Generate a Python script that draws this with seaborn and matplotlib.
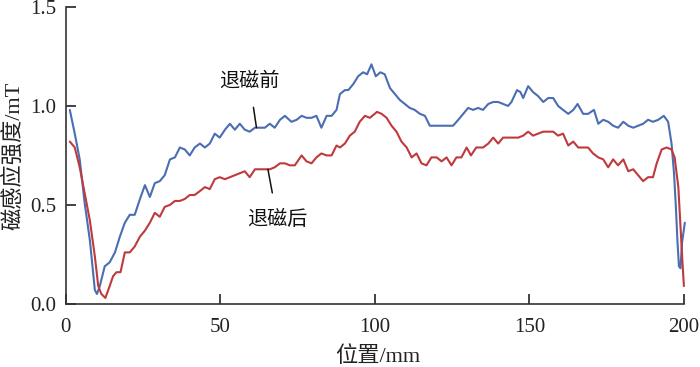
import matplotlib
matplotlib.use("Agg")
import matplotlib.pyplot as plt
import seaborn as sns
import pandas as pd

x_before = [1.3, 2.9, 4.5, 6.1, 7.8, 9.4, 10.1, 11.0, 12.6, 14.2, 15.9, 17.5, 19.1, 20.7, 22.3, 24.0, 25.6, 27.2, 28.8, 30.4, 32.0, 33.7, 35.3, 36.9, 38.5, 40.1, 41.7, 43.4, 45.0, 46.6, 48.2, 49.8, 51.5, 53.1, 54.7, 56.3, 57.9, 59.5, 61.2, 64.4, 66.0, 67.6, 69.3, 70.9, 73.0, 74.7, 76.3, 77.9, 79.5, 81.1, 82.7, 84.4, 86.0, 87.6, 88.7, 90.3, 91.4, 93.0, 94.6, 96.2, 97.5, 98.9, 100.3, 101.8, 103.2, 104.9, 106.5, 108.1, 109.7, 111.3, 112.9, 114.6, 116.2, 117.8, 119.4, 121.0, 123.2, 125.3, 127.0, 128.6, 130.2, 131.8, 133.4, 135.0, 136.7, 138.3, 139.9, 141.5, 143.1, 144.2, 146.0, 147.1, 148.0, 149.6, 151.2, 152.8, 154.5, 156.1, 157.7, 159.3, 160.9, 162.6, 164.2, 165.6, 167.4, 169.0, 170.9, 172.3, 173.9, 175.5, 177.1, 178.7, 180.4, 182.0, 183.6, 185.2, 186.8, 188.4, 190.0, 191.7, 193.5, 194.9, 196.0, 196.8, 197.4, 197.9, 198.4, 198.9, 199.4, 200.3]
y_before = [0.98, 0.86, 0.73, 0.51, 0.32, 0.07, 0.05, 0.09, 0.19, 0.21, 0.26, 0.34, 0.41, 0.45, 0.45, 0.53, 0.60, 0.54, 0.61, 0.62, 0.65, 0.73, 0.74, 0.79, 0.78, 0.75, 0.79, 0.81, 0.79, 0.81, 0.86, 0.84, 0.88, 0.91, 0.88, 0.91, 0.88, 0.87, 0.89, 0.89, 0.91, 0.89, 0.93, 0.95, 0.92, 0.93, 0.95, 0.94, 0.94, 0.95, 0.89, 0.95, 0.95, 0.98, 1.06, 1.08, 1.08, 1.11, 1.15, 1.17, 1.16, 1.21, 1.15, 1.17, 1.16, 1.09, 1.06, 1.03, 1.01, 0.99, 0.98, 0.96, 0.95, 0.90, 0.90, 0.90, 0.90, 0.90, 0.93, 0.96, 0.99, 0.98, 0.99, 0.98, 1.01, 1.02, 1.02, 1.01, 1.00, 1.02, 1.08, 1.07, 1.04, 1.10, 1.07, 1.05, 1.02, 1.04, 1.04, 1.00, 0.98, 0.96, 0.98, 1.01, 0.96, 0.96, 0.98, 0.91, 0.93, 0.92, 0.90, 0.89, 0.92, 0.90, 0.89, 0.90, 0.91, 0.93, 0.92, 0.93, 0.95, 0.92, 0.81, 0.66, 0.49, 0.32, 0.19, 0.18, 0.31, 0.41]

x_after = [1.3, 2.9, 4.5, 6.1, 7.8, 9.4, 10.5, 11.5, 12.8, 14.2, 15.3, 16.4, 17.7, 19.1, 20.7, 22.3, 24.0, 25.6, 27.2, 28.8, 30.4, 32.0, 33.7, 35.3, 36.9, 38.5, 40.1, 41.7, 43.4, 45.0, 46.6, 48.2, 49.8, 51.5, 53.1, 54.7, 56.3, 57.9, 59.5, 61.2, 62.8, 64.4, 66.0, 67.6, 69.3, 70.9, 72.5, 74.1, 76.3, 77.9, 79.5, 81.1, 82.7, 84.4, 86.0, 87.6, 88.7, 90.3, 91.9, 93.5, 95.1, 96.8, 98.4, 100.7, 102.2, 103.8, 105.4, 107.0, 108.6, 110.3, 111.9, 113.5, 115.1, 116.7, 118.3, 120.0, 121.6, 123.2, 124.8, 126.4, 128.0, 129.7, 131.1, 132.8, 135.0, 136.7, 138.3, 139.9, 141.5, 143.7, 146.4, 148.0, 149.6, 151.2, 152.8, 154.5, 157.7, 159.3, 160.9, 162.6, 164.2, 165.8, 167.4, 169.0, 170.6, 172.3, 173.9, 175.5, 177.1, 178.7, 180.4, 182.0, 183.6, 185.2, 186.8, 188.4, 190.0, 191.2, 192.8, 194.4, 196.0, 197.0, 198.2, 198.9, 199.5, 200.0]
y_after = [0.82, 0.79, 0.69, 0.56, 0.42, 0.24, 0.09, 0.05, 0.03, 0.09, 0.14, 0.16, 0.16, 0.26, 0.26, 0.29, 0.34, 0.37, 0.41, 0.46, 0.44, 0.49, 0.50, 0.52, 0.52, 0.53, 0.55, 0.55, 0.57, 0.59, 0.58, 0.63, 0.64, 0.63, 0.64, 0.65, 0.66, 0.67, 0.64, 0.68, 0.68, 0.68, 0.68, 0.69, 0.71, 0.71, 0.70, 0.70, 0.75, 0.72, 0.71, 0.74, 0.76, 0.75, 0.75, 0.80, 0.79, 0.81, 0.85, 0.87, 0.92, 0.95, 0.94, 0.97, 0.96, 0.94, 0.90, 0.87, 0.82, 0.79, 0.74, 0.76, 0.71, 0.70, 0.74, 0.74, 0.72, 0.74, 0.70, 0.74, 0.74, 0.79, 0.75, 0.79, 0.79, 0.81, 0.84, 0.81, 0.84, 0.84, 0.84, 0.85, 0.87, 0.85, 0.86, 0.87, 0.87, 0.85, 0.86, 0.80, 0.82, 0.79, 0.79, 0.79, 0.76, 0.74, 0.73, 0.69, 0.73, 0.70, 0.73, 0.67, 0.68, 0.65, 0.62, 0.64, 0.64, 0.71, 0.78, 0.79, 0.78, 0.74, 0.59, 0.39, 0.22, 0.09]

x_ticks = [0, 50, 100, 150, 200]
y_ticks = [0.0, 0.5, 1.0, 1.5]
y_tick_labels = ["0.0", "0.5", "1.0", "1.5"]
label_before = "退磁前"
label_after = "退磁后"
x_label = "位置/mm"
y_label = "磁感应强度/mT"

sns.set_style("ticks")
plt.rcParams['font.family'] = ['Liberation Serif', 'Noto Sans CJK SC']
plt.rcParams['xtick.direction'] = 'in'
plt.rcParams['ytick.direction'] = 'in'

df_b = pd.DataFrame({"x": x_before, "y": y_before})
df_a = pd.DataFrame({"x": x_after, "y": y_after})

fig = plt.figure(figsize=(7.0, 3.67), dpi=100)
ax = fig.add_axes([0.094, 0.172, 0.883, 0.809])

sns.lineplot(data=df_b, x="x", y="y", sort=False, color="#4A6DB3", lw=1.5, ax=ax, clip_on=False)
sns.lineplot(data=df_a, x="x", y="y", sort=False, color="#C0393C", lw=1.5, ax=ax, clip_on=False)

ax.set_xlim(0, 200)
ax.set_ylim(0, 1.5)
ax.set_xticks(x_ticks)
ax.set_yticks(y_ticks)
ax.set_yticklabels(y_tick_labels)
ax.tick_params(axis='both', length=7, width=1.2, labelsize=15, color="#222222", labelcolor="#222222")
ax.tick_params(axis='x', pad=10)
ax.tick_params(axis='y', pad=7)
for s in ["left", "bottom"]:
    ax.spines[s].set_linewidth(1.2)
    ax.spines[s].set_color("#333333")
sns.despine(ax=ax)

ax.set_xlabel(x_label, fontsize=16, color="#222222")
ax.set_ylabel(y_label, fontsize=16, color="#222222")
ax.xaxis.set_label_coords(0.505, -0.142)
ax.yaxis.set_label_coords(-0.067, 0.5)

ax.annotate(label_before, xy=(61.7, 0.89), xytext=(59.5, 1.12), fontsize=14.5,
            ha="center", va="center", color="#111111",
            arrowprops=dict(arrowstyle="-", color="#111111", lw=1.1, shrinkA=9, shrinkB=0))
ax.annotate(label_after, xy=(65.4, 0.68), xytext=(68.5, 0.42), fontsize=14.5,
            ha="center", va="center", color="#111111",
            arrowprops=dict(arrowstyle="-", color="#111111", lw=1.1, shrinkA=11, shrinkB=0))

fig.savefig("out.png", dpi=100)
